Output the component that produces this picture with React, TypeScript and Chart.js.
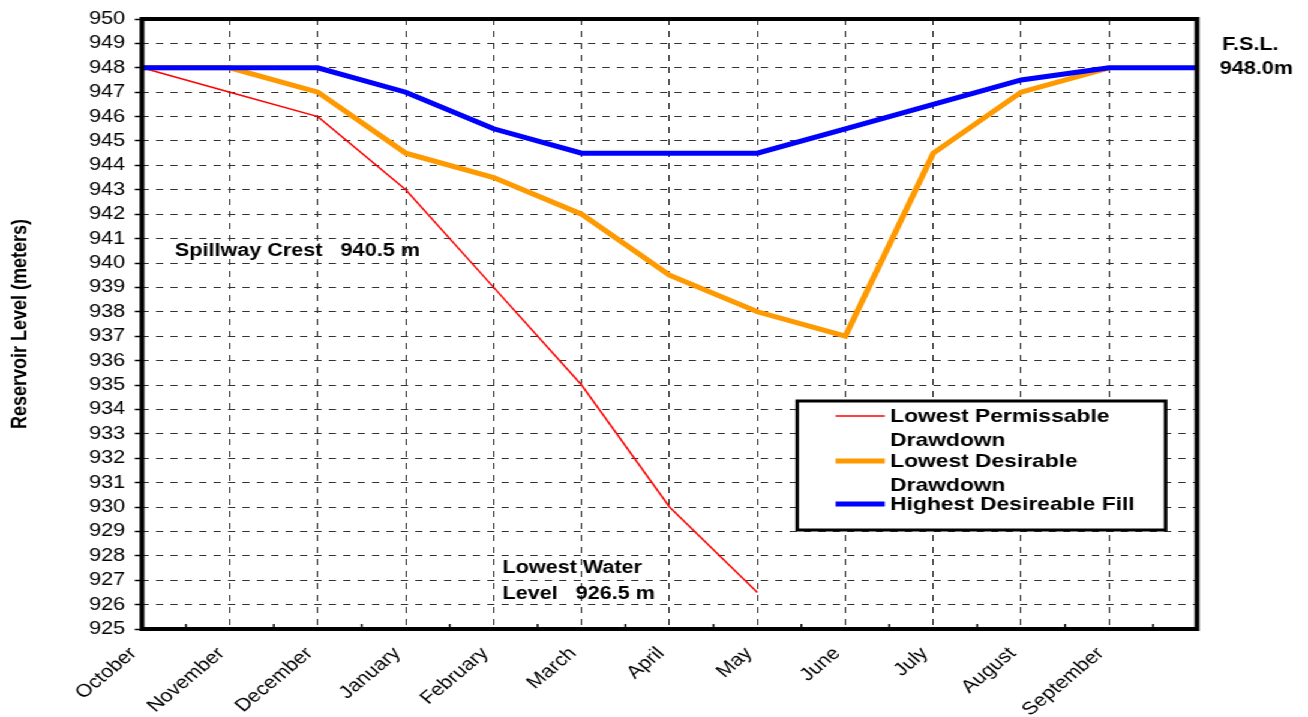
import React, { useEffect, useRef } from "react";
import { Chart, registerables } from "chart.js";

Chart.register(...registerables);

const months = ["October", "November", "December", "January", "February", "March", "April", "May", "June", "July", "August", "September", ""];
const lowestPermissable = [948, 947, 946, 943, 939, 935, 930, 926.5, null, null, null, null, null];
const lowestDesirable = [948, 948, 947, 944.5, 943.5, 942, 939.5, 938, 937, 944.5, 947, 948, null];
const highestFill = [948, 948, 948, 947, 945.5, 944.5, 944.5, 944.5, 945.5, 946.5, 947.5, 948, 948];

const yMin = 925;
const yMax = 950;
const spillwayLevel = 940.5;
const lowestWaterLevel = 926.5;
const fslLevel = 948.0;

const STRETCH = 1.2;
const W = Math.round(1308 / STRETCH);
const H = 717;
const FONT = '"Liberation Sans", Arial, Helvetica, sans-serif';

const legendItems = [
  { lines: ["Lowest Permissable", "Drawdown"], color: "#ff0000", width: 1.5 },
  { lines: ["Lowest Desirable", "Drawdown"], color: "#ff9900", width: 5 },
  { lines: ["Highest Desireable Fill"], color: "#0000ff", width: 5 },
];

const notesPlugin = {
  id: "notes",
  afterDraw(chart: any) {
    const { ctx, chartArea: a, scales } = chart;
    const x = scales.x;
    const y = scales.y;
    ctx.save();
    // minor ticks on the x axis
    ctx.strokeStyle = "#000";
    ctx.lineWidth = 1.5;
    ctx.setLineDash([]);
    for (let i = 0; i < months.length - 1; i++) {
      const mx = (x.getPixelForValue(i) + x.getPixelForValue(i + 1)) / 2;
      ctx.beginPath();
      ctx.moveTo(mx, a.bottom);
      ctx.lineTo(mx, a.bottom - 5);
      ctx.stroke();
    }
    // frame
    ctx.lineWidth = 4;
    ctx.strokeRect(a.left, a.top, a.right - a.left, a.bottom - a.top);

    // annotations
    ctx.fillStyle = "#000";
    ctx.font = `bold 18px ${FONT}`;
    ctx.textAlign = "left";
    ctx.textBaseline = "middle";
    ctx.fillText("Spillway Crest   940.5 m", x.getPixelForValue(0.375), y.getPixelForValue(spillwayLevel));
    ctx.fillText("Lowest Water", x.getPixelForValue(4.1), y.getPixelForValue(lowestWaterLevel + 1));
    ctx.fillText("Level   926.5 m", x.getPixelForValue(4.1), y.getPixelForValue(lowestWaterLevel - 0.05));
    ctx.fillText("F.S.L.", a.right + 21, y.getPixelForValue(fslLevel + 0.95));
    ctx.fillText("948.0m", a.right + 19, y.getPixelForValue(fslLevel - 0.05));

    // legend
    const bx = a.left + 546;
    const by = 401;
    const bw = 307;
    const bh = 129;
    ctx.fillStyle = "#fff";
    ctx.fillRect(bx, by, bw, bh);
    ctx.lineWidth = 3;
    ctx.strokeStyle = "#000";
    ctx.strokeRect(bx, by, bw, bh);
    ctx.font = `bold 19px ${FONT}`;
    ctx.fillStyle = "#000";
    const rows = [15, 60, 103];
    legendItems.forEach((it, i) => {
      const ry = by + rows[i];
      ctx.strokeStyle = it.color;
      ctx.lineWidth = it.width;
      ctx.beginPath();
      ctx.moveTo(bx + 32, ry);
      ctx.lineTo(bx + 73, ry);
      ctx.stroke();
      it.lines.forEach((t, j) => {
        ctx.fillText(t, bx + 77.5, ry + 1 + j * 24);
      });
    });
    ctx.restore();
  },
};

export default function App() {
  const ref = useRef<HTMLCanvasElement>(null);
  useEffect(() => {
    const canvas = ref.current!;
    const chart = new Chart(canvas, {
      type: "line",
      data: {
        labels: months,
        datasets: [
          {
            label: "Lowest Permissable Drawdown",
            data: lowestPermissable,
            borderColor: "#ff0000",
            borderWidth: 1.5,
            pointRadius: 0,
            tension: 0,
            order: 2,
          },
          {
            label: "Lowest Desirable Drawdown",
            data: lowestDesirable,
            borderColor: "#ff9900",
            borderWidth: 5,
            pointRadius: 0,
            tension: 0,
            order: 1,
          },
          {
            label: "Highest Desireable Fill",
            data: highestFill,
            borderColor: "#0000ff",
            borderWidth: 5,
            pointRadius: 0,
            tension: 0,
            order: 0,
          },
        ],
      },
      options: {
        animation: false,
        responsive: false,
        devicePixelRatio: 1,
        layout: { padding: { top: 19, right: W - 997.5, left: 0, bottom: 0 } },
        plugins: {
          legend: { display: false },
          tooltip: { enabled: false },
        },
        scales: {
          x: {
            type: "category",
            offset: false,
            grid: {
              offset: false,
              color: "#222",
              lineWidth: 1,
              drawTicks: false,
            },
            border: { display: false, dash: [6, 6] },
            ticks: {
              autoSkip: false,
              maxRotation: 45,
              minRotation: 45,
              padding: 14,
              labelOffset: -7,
              color: "#000",
              font: { family: FONT, size: 18 },
            },
            afterFit(scale: any) {
              scale.height = 88;
            },
          },
          y: {
            min: yMin,
            max: yMax,
            grid: {
              color: "#333",
              lineWidth: 1,
              drawTicks: true,
              tickLength: 6,
              tickColor: "#000",
              tickWidth: 1.5,
              tickBorderDash: [],
            },
            border: { display: false, dash: [6, 6] },
            ticks: {
              stepSize: 1,
              autoSkip: false,
              padding: 8,
              color: "#000",
              font: { family: FONT, size: 18 },
            },
            title: {
              display: true,
              text: "Reservoir Level (meters)",
              color: "#000",
              padding: { top: 6, bottom: 4 },
              font: { family: FONT, size: 18, weight: "bold" },
            },
            afterFit(scale: any) {
              scale.width = 142 / STRETCH;
            },
          },
        },
      },
      plugins: [notesPlugin],
    });
    return () => chart.destroy();
  }, []);
  return (
    <div
      style={{
        position: "absolute",
        left: 0,
        top: 0,
        width: W,
        height: H,
        transform: `scaleX(${STRETCH})`,
        transformOrigin: "0 0",
        background: "#fff",
      }}
    >
      <canvas ref={ref} width={W} height={H} style={{ display: "block", width: W, height: H }} />
    </div>
  );
}
